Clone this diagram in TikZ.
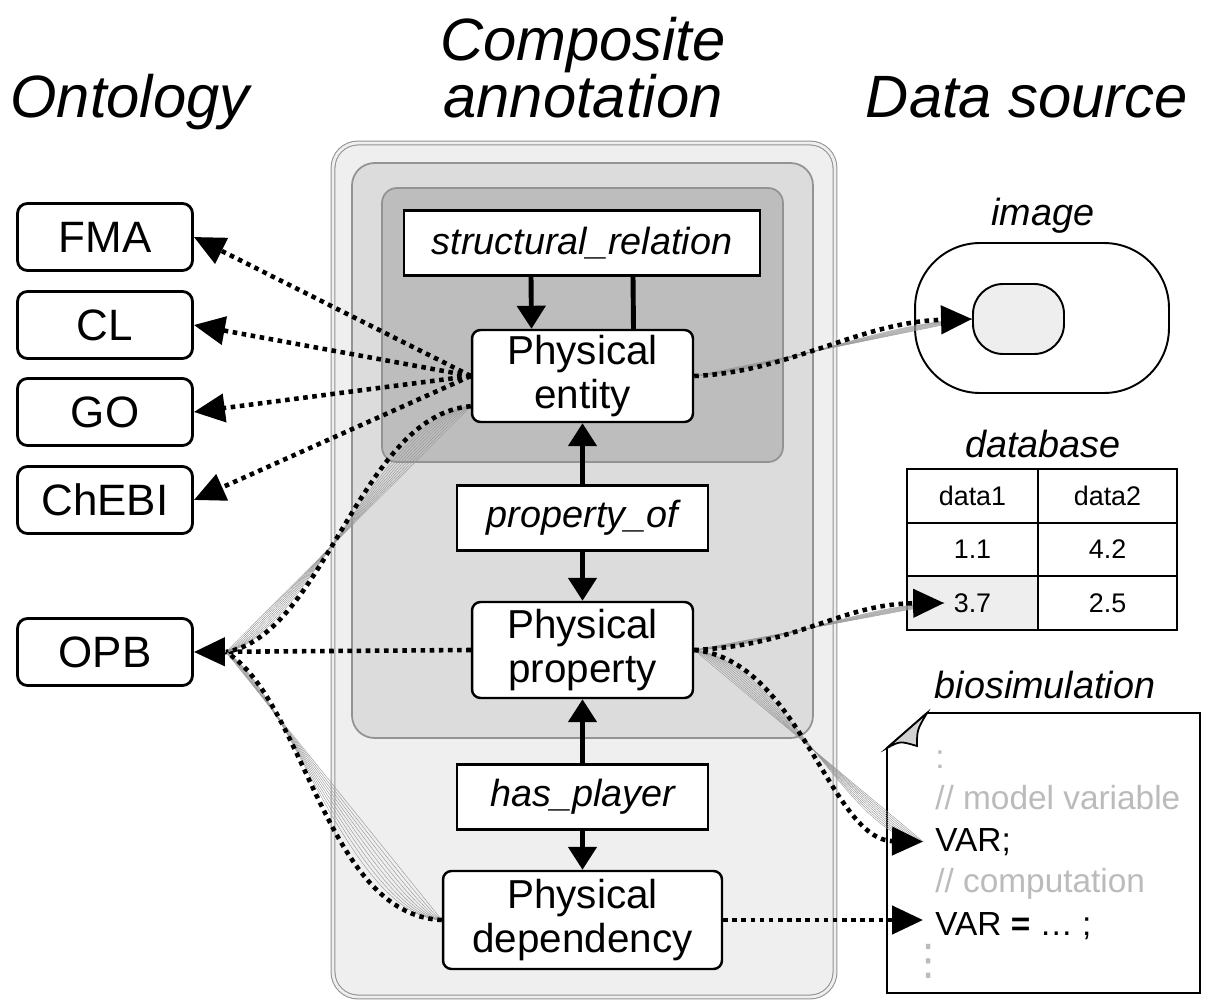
\documentclass[tikz,border=0pt]{standalone}
\usepackage{fontspec}
\setmainfont{Liberation Sans}
\newfontfamily\symfont{DejaVu Sans}
\usepackage{tikz}
\usetikzlibrary{arrows.meta,calc}
\definecolor{outerbg}{HTML}{EFEFEF}
\definecolor{midbg}{HTML}{DCDCDC}
\definecolor{innerbg}{HTML}{BDBDBD}
\definecolor{frame}{HTML}{939393}
\definecolor{lightfill}{HTML}{EEEEEE}
\definecolor{cmt}{HTML}{BBBBBB}

\begin{document}
\begin{tikzpicture}[x=0.02cm,y=-0.02cm,
  onto/.style={draw,line width=1.6pt,rounded corners=0.2cm,fill=white,
    minimum width=3.5cm,minimum height=1.34cm,inner sep=0pt,font=\fontsize{25}{30}\selectfont},
  phys/.style={draw,line width=1.4pt,rounded corners=0.17cm,fill=white,
    inner sep=0pt,align=center,minimum width=4.42cm,font=\fontsize{23}{25}\selectfont},
  rel/.style={draw,line width=1.4pt,fill=white,inner sep=0pt,
    minimum height=1.3cm,font=\fontsize{21.5}{25}\selectfont\itshape},
  hdr/.style={anchor=base,align=center,font=\fontsize{34}{33}\selectfont\itshape},
  srclab/.style={anchor=base,font=\fontsize{21.5}{25}\selectfont\itshape},
  cell/.style={draw,line width=1pt,minimum height=1.07cm,inner sep=0pt,font=\fontsize{15.3}{18}\selectfont},
  code/.style={anchor=base west,inner sep=0pt,font=\fontsize{19}{22}\selectfont},
  link/.style={line width=2.8pt,-{Triangle[length=0.46cm,width=0.56cm]}},
  dotl/.style={line width=2.6pt,dash pattern=on 2.6pt off 2.6pt},
  dotarr/.style={dotl,-{Triangle[length=0.62cm,width=0.56cm]}},
  fan/.style={gray!80,line width=0.25pt}]
\useasboundingbox (0,0) rectangle (1230,1000);
% headers
\node[hdr] (hont) at (130,118) {Ontology};
\node[hdr] (hcomp) at (583,118) {Composite\\annotation};
\node[hdr] (hsrc) at (1027,118) {Data source};
% ontologies
\node[onto] (fma) at (105,237) {FMA};
\node[onto] (cl) at (105,325) {CL};
\node[onto] (go) at (105,412) {GO};
\node[onto] (chebi) at (105,500) {ChEBI};
\node[onto] (opb) at (105,652) {OPB};
% composite annotation
\draw[frame,line width=0.6pt,double=outerbg,double distance=1.6pt,fill=outerbg,rounded corners=0.5cm] (333,143) rectangle (835,997);
\draw[frame,line width=1pt,fill=midbg,rounded corners=0.45cm] (352,163) rectangle (813,738);
\draw[frame,line width=1pt,fill=innerbg,rounded corners=0.3cm] (382,188) rectangle (783,462);
\node[rel,minimum width=7.12cm] (sr) at (582,243) {structural\_relation};
\node[phys,minimum height=1.84cm] (ent) at (582.5,376) {Physical\\entity};
\node[rel,minimum width=5.02cm] (po) at (582.5,518) {property\_of};
\node[phys,minimum height=1.92cm] (prop) at (582.5,650) {Physical\\property};
\node[rel,minimum width=5.02cm] (hp) at (582.5,797) {has\_player};
\node[phys,minimum width=5.58cm,minimum height=1.96cm] (dep) at (582.5,920) {Physical\\dependency};
\draw[link] ($(sr.south)+(-51,0)$) -- ($(ent.north)+(-51,0)$);
\draw[line width=2.8pt] ($(sr.south)+(51,0)$) -- ($(ent.north)+(51,0)$);
\draw[link] (po) -- (ent);
\draw[link] (po) -- (prop);
\draw[link] (hp) -- (prop);
\draw[link] (hp) -- (dep);
% data sources
\node[srclab] (imglab) at (1043,226) {image};
\node[draw,line width=1.1pt,rounded corners=1.3cm,minimum width=5.08cm,minimum height=3cm] (imgout) at (1042,318) {};
\node[draw,line width=1.1pt,fill=lightfill,rounded corners=0.6cm,minimum width=1.82cm,minimum height=1.4cm] (imgin) at (1018.5,319) {};
\node[srclab] (dblab) at (1043,457) {database};
\node[cell,minimum width=2.62cm] (c11) at (972.5,496) {data1};
\node[cell,minimum width=2.78cm] (c12) at (1107.5,496) {data2};
\node[cell,minimum width=2.62cm] (c21) at (972.5,549.5) {1.1};
\node[cell,minimum width=2.78cm] (c22) at (1107.5,549.5) {4.2};
\node[cell,minimum width=2.62cm,fill=lightfill] (c31) at (972.5,603) {3.7};
\node[cell,minimum width=2.78cm] (c32) at (1107.5,603) {2.5};
\node[srclab] (simlab) at (1045,698) {biosimulation};
\draw[line width=1.1pt,fill=white] (927,713) -- (1200,713) -- (1200,993) -- (887,993) -- (887,748) -- cycle;
\filldraw[line width=1pt,fill=gray!35] (887,748) .. controls (900,741) .. (917,746) .. controls (917,730) .. (927,713) -- cycle;
\node[code,text=cmt] (d0) at (935,768) {:};
\node[code,text=cmt] (cm1) at (935,809) {// model variable};
\node[code] (var1) at (935,851) {VAR;};
\node[code,text=cmt] (cm2) at (935,892) {// computation};
\node[code] (var2) at (935,935) {VAR \textbf{=} … ;};
\node[code,anchor=north,text=cmt,font=\fontsize{24}{24}\symfont] (d1) at (929,944) {⋮};
% ontology links
\draw[dotarr] (ent.west) -- (fma.east);
\draw[dotarr] (ent.west) -- (cl.east);
\draw[dotarr] (ent.west) -- (go.east);
\draw[dotarr] (ent.west) -- (chebi.east);
\draw[dotarr] (prop.west) -- (opb.east);
\coordinate (entlow) at ($(ent.south west)+(0,-17)$);
\coordinate (opbin) at ($(opb.east)+(32,0)$);
\foreach \t in {0,0.1,...,0.9}
  \draw[fan] (entlow) .. controls ($(entlow)!\t!(360,415)$) and ($(opbin)!\t!(325,635)$) .. (opbin);
\draw[dotl] (entlow) .. controls (360,415) and (325,635) .. (opbin);
\foreach \t in {0,0.1,...,0.9}
  \draw[fan] (dep.west) .. controls ($(dep.west)!\t!(325,915)$) and ($(opbin)!\t!(305,700)$) .. (opbin);
\draw[dotl] (dep.west) .. controls (325,915) and (305,700) .. (opbin);
% data source links
\foreach \t in {0,0.1,...,0.9}
  \draw[fan] (ent.east) .. controls ($(ent.east)!\t!(790,372)$) and ($(imgin.west)!\t!(860,322)$) .. (imgin.west);
\draw[dotarr] (ent.east) .. controls (790,372) and (860,322) .. (imgin.west);
\coordinate (dbin) at ($(c31.west)+(38,0)$);
\foreach \t in {0,0.1,...,0.9}
  \draw[fan] (prop.east) .. controls ($(prop.east)!\t!(800,645)$) and ($(dbin)!\t!(840,604)$) .. (dbin);
\draw[dotarr] (prop.east) .. controls (800,645) and (840,604) .. (dbin);
\coordinate (varin) at ($(var1.west)+(-12,0)$);
\foreach \t in {0,0.1,...,0.9}
  \draw[fan] (prop.east) .. controls ($(prop.east)!\t!(800,660)$) and ($(varin)!\t!(830,840)$) .. (varin);
\draw[dotarr] (prop.east) .. controls (800,660) and (830,840) .. (varin);
\draw[dotarr] (dep.east) -- ($(dep.east -| var2.west)+(-12,0)$);
\end{tikzpicture}
\end{document}
